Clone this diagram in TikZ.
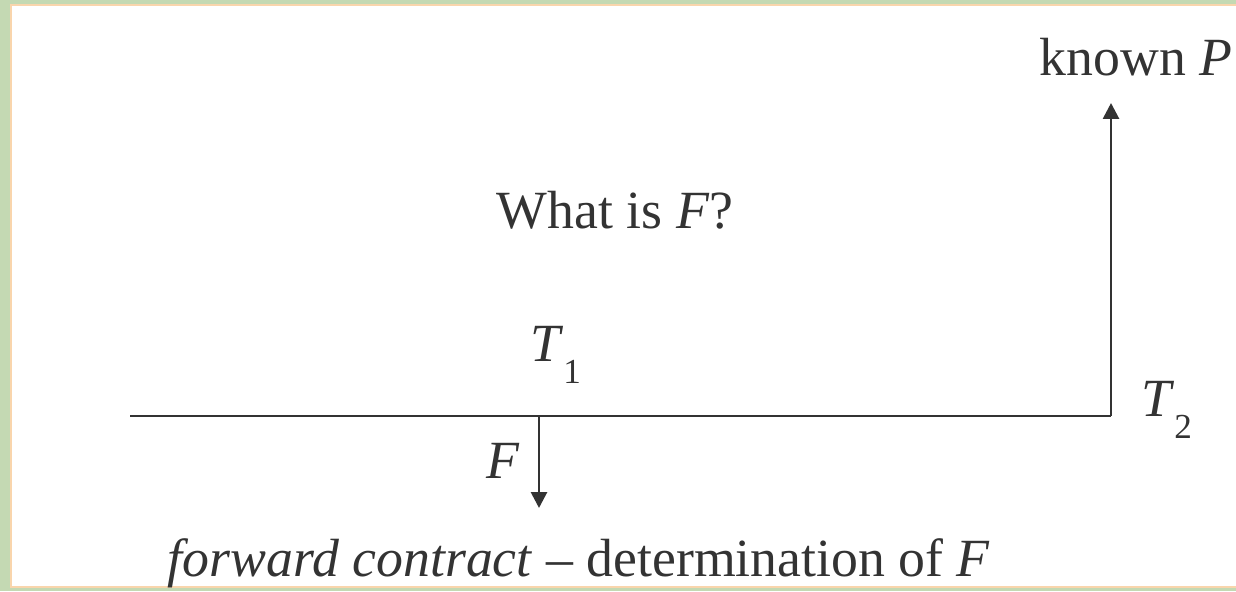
\documentclass[tikz,border=0pt]{standalone}
\usepackage{fontspec}
\setmainfont{Liberation Serif}
\usepackage{tikz}
\usepackage{xcolor}
\usetikzlibrary{arrows.meta,positioning}
\definecolor{ink}{HTML}{333333}
\definecolor{frame}{HTML}{C4D9B3}
\definecolor{edge}{HTML}{F9D5AC}
\newcommand{\subtxt}[1]{\raisebox{-0.42em}{\fontsize{20}{24}\selectfont #1}}

\begin{document}
\begin{tikzpicture}[x=0.02cm, y=-0.02cm,
    txt/.style={inner sep=0pt, text=ink, font=\fontsize{30.6}{36}\selectfont},
    flow/.style={-{Triangle[length=0.32cm, width=0.32cm]}, line width=1.6pt, draw=ink},
    axis/.style={line width=1.6pt, draw=ink}]
  \useasboundingbox (0,0) rectangle (1236,591);
  % slide background
  \fill[frame] (0,0) rectangle (1236,591);
  \fill[white, draw=edge, line width=1pt] (11,5) rectangle (1240,587);

  % time line
  \coordinate (start) at (130,416);
  \coordinate (t1) at (539,416);
  \coordinate (t2) at (1111,416);
  \coordinate (fout) at (539,508);
  \coordinate (pin) at (1111,103);
  \draw[axis] (start) -- (t2);
  \draw[flow] (t1) -- (fout);
  \draw[flow] (t2) -- (pin);

  % labels
  \node[txt, anchor=base] (known) at (1136,76) {known \textit{P}};
  \node[txt, anchor=base] (question) at (615,228) {What is \textit{F}?};
  \node[txt, anchor=base west] (lblone) at (530,361) {\textit{T}\subtxt{1}};
  \node[txt, anchor=base west] (lbltwo) at (1141,416) {\textit{T}\subtxt{2}};
  \node[txt, anchor=base east] (lblf) at (520,478) {\textit{F}};
  \node[txt, anchor=base] (caption) at (579,576)
    {\textit{forward contract} -- determination of \textit{F}};
\end{tikzpicture}
\end{document}
